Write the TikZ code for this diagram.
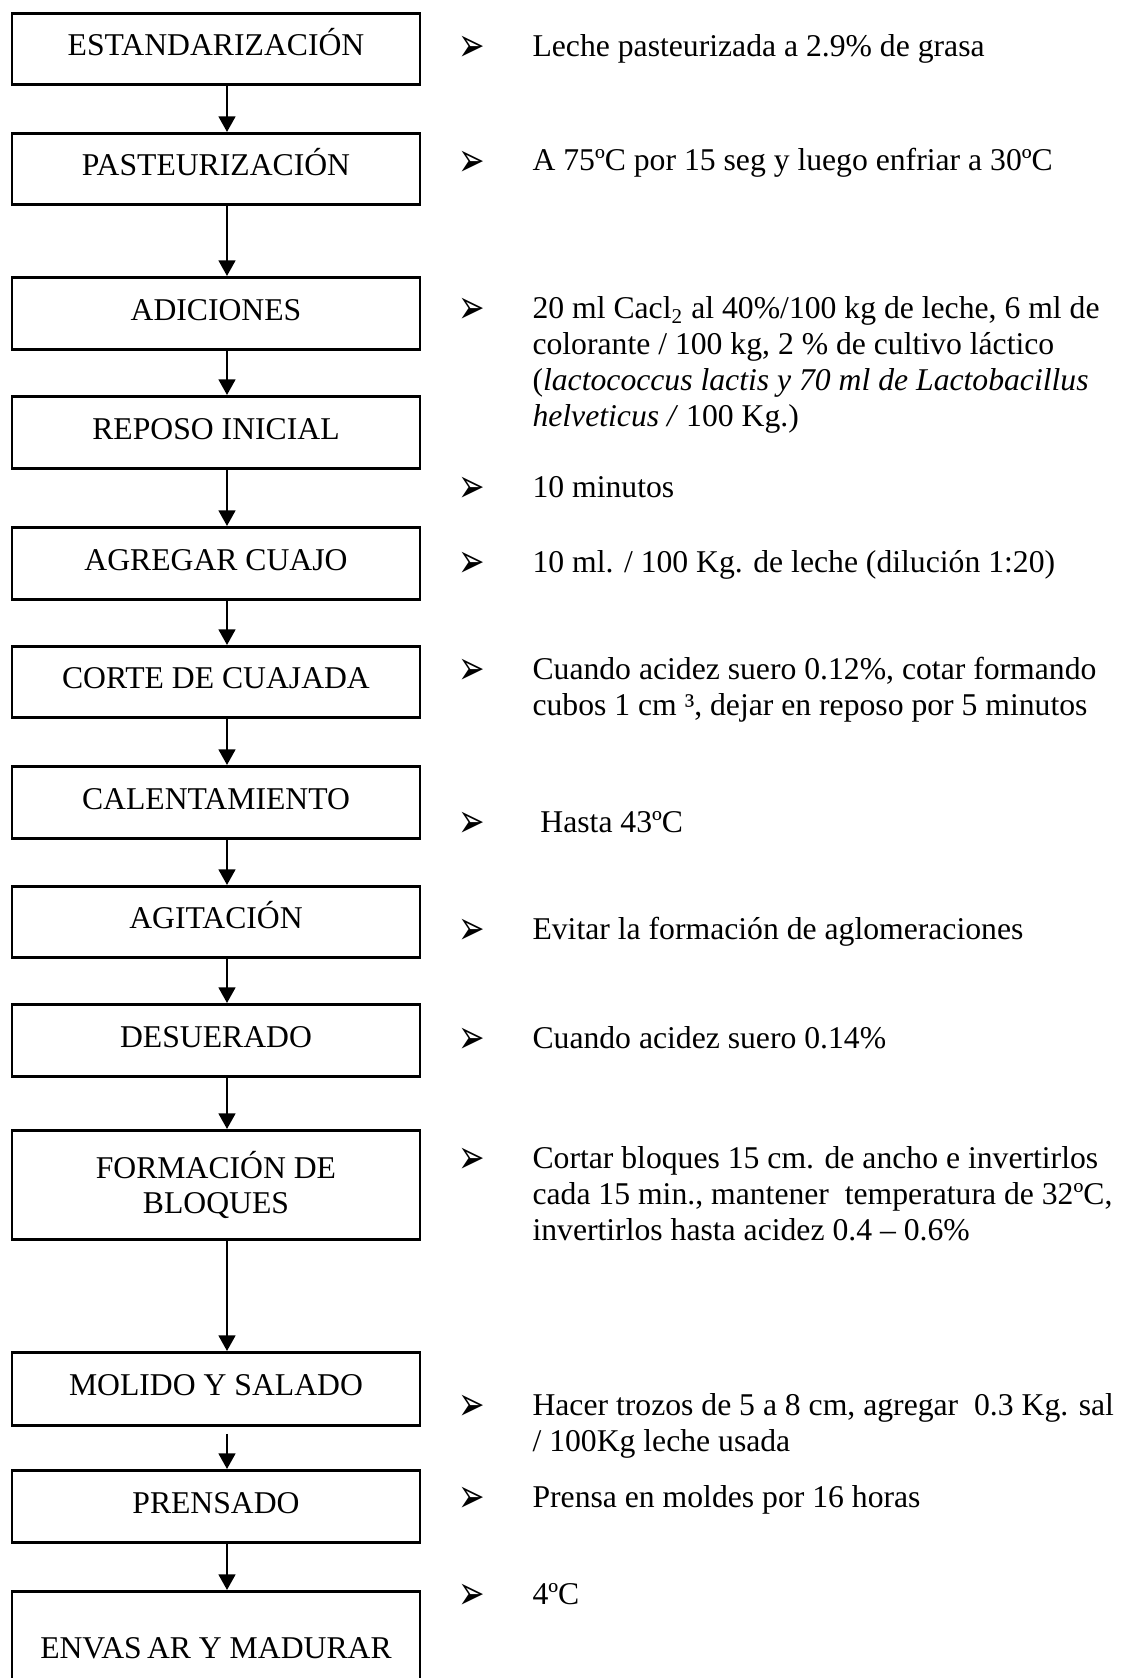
\documentclass[tikz,border=0pt]{standalone}
\usepackage{fontspec}
\setmainfont{Liberation Serif}
\newfontfamily\flechitas{DejaVu Sans}
\usetikzlibrary{arrows.meta}
\newcommand{\unidad}{0.3788pt}

\begin{document}
\begin{tikzpicture}[x=\unidad, y=-\unidad,
    caja/.style={draw, line width=1.1pt, minimum width=408*\unidad, inner sep=0pt,
      anchor=north, font=\fontsize{12}{13.6}\selectfont},
    paso/.style={caja, text height=0.7em, text depth=0.2em},
    flecha/.style={line width=0.95pt, -{Triangle[width=6.3pt,length=5.9pt]}},
    vineta/.style={anchor=base, inner sep=0pt, yshift=-2.6pt, font=\flechitas\fontsize{12}{13}\selectfont},
    nota/.style={anchor=north west, align=left, inner sep=0pt, font=\fontsize{12}{13.6}\selectfont}]
  \useasboundingbox (0,0) rectangle (1124,1678);
  \coordinate (eje) at (227,0);

  \node[paso, minimum height=71*\unidad] (p1) at (216,12) {ESTANDARIZACIÓN};
  \node[paso, minimum height=71*\unidad] (p2) at (216,132) {PASTEURIZACIÓN};
  \node[paso, minimum height=72*\unidad] (p3) at (216,276) {ADICIONES};
  \node[paso, minimum height=72*\unidad] (p4) at (216,395) {REPOSO INICIAL};
  \node[paso, minimum height=72*\unidad] (p5) at (216,526) {AGREGAR CUAJO};
  \node[paso, minimum height=71*\unidad] (p6) at (216,645) {CORTE DE CUAJADA};
  \node[paso, minimum height=72*\unidad] (p7) at (216,765) {CALENTAMIENTO};
  \node[paso, minimum height=71*\unidad] (p8) at (216,885) {AGITACIÓN};
  \node[paso, minimum height=72*\unidad] (p9) at (216,1003) {DESUERADO};
  \node[caja, minimum height=109*\unidad, align=center] (p10) at (216,1129) {FORMACIÓN DE\\BLOQUES};
  \node[paso, minimum height=73*\unidad] (p11) at (216,1351) {MOLIDO Y SALADO};
  \node[paso, minimum height=72*\unidad] (p12) at (216,1469) {PRENSADO};
  \node[paso, minimum height=120*\unidad] (p13) at (216,1590) {ENVAS\,AR Y MADURAR};

  \draw[flecha] (p1.south -| eje) -- (p2.north -| eje);
  \draw[flecha] (p2.south -| eje) -- (p3.north -| eje);
  \draw[flecha] (p3.south -| eje) -- (p4.north -| eje);
  \draw[flecha] (p4.south -| eje) -- (p5.north -| eje);
  \draw[flecha] (p5.south -| eje) -- (p6.north -| eje);
  \draw[flecha] (p6.south -| eje) -- (p7.north -| eje);
  \draw[flecha] (p7.south -| eje) -- (p8.north -| eje);
  \draw[flecha] (p8.south -| eje) -- (p9.north -| eje);
  \draw[flecha] (p9.south -| eje) -- (p10.north -| eje);
  \draw[flecha] (p10.south -| eje) -- (p11.north -| eje);
  \draw[flecha, shorten <=7*\unidad] (p11.south -| eje) -- (p12.north -| eje);
  \draw[flecha] (p12.south -| eje) -- (p13.north -| eje);

  \node[vineta] (v1) at (472,55) {\scalebox{1}[1.5]{➢}};
  \node[nota] (n1) at (532,31) {\strut Leche pasteurizada a 2.9\% de grasa};
  \node[vineta] (v2) at (472,170) {\scalebox{1}[1.5]{➢}};
  \node[nota] (n2) at (532,145) {\strut A 75ºC por 15 seg y luego enfriar a 30ºC};
  \node[vineta] (v3) at (472,317) {\scalebox{1}[1.5]{➢}};
  \node[nota] (n3) at (532,293) {\strut 20 ml Cacl\textsubscript{2} al 40\%/100 kg de leche, 6 ml de\\
    colorante / 100 kg, 2 \% de cultivo láctico\\
    (\textit{lactococcus lactis y 70 ml de Lactobacillus}\\
    \textit{helveticus /} 100 Kg.)};
  \node[vineta] (v4) at (472,496) {\scalebox{1}[1.5]{➢}};
  \node[nota] (n4) at (532,472) {\strut 10 minutos};
  \node[vineta] (v5) at (472,571) {\scalebox{1}[1.5]{➢}};
  \node[nota] (n5) at (532,547) {\strut 10 ml. / 100 Kg. de leche (dilución 1:20)};
  \node[vineta] (v6) at (472,678) {\scalebox{1}[1.5]{➢}};
  \node[nota] (n6) at (532,654) {\strut Cuando acidez suero 0.12\%, cotar formando\\
    cubos 1 cm ³, dejar en reposo por 5 minutos};
  \node[vineta] (v7) at (472,831) {\scalebox{1}[1.5]{➢}};
  \node[nota] (n7) at (532,807) {\strut\hspace{0.25em}Hasta 43ºC};
  \node[vineta] (v8) at (472,938) {\scalebox{1}[1.5]{➢}};
  \node[nota] (n8) at (532,914) {\strut Evitar la formación de aglomeraciones};
  \node[vineta] (v9) at (472,1047) {\scalebox{1}[1.5]{➢}};
  \node[nota] (n9) at (532,1023) {\strut Cuando acidez suero 0.14\%};
  \node[vineta] (v10) at (472,1167) {\scalebox{1}[1.5]{➢}};
  \node[nota] (n10) at (532,1143) {\strut Cortar bloques 15 cm. de ancho e invertirlos\\
    cada 15 min., mantener\ \ temperatura de 32ºC,\\
    invertirlos hasta acidez 0.4 -- 0.6\%};
  \node[vineta] (v11) at (472,1414) {\scalebox{1}[1.5]{➢}};
  \node[nota] (n11) at (532,1390) {\strut Hacer trozos de 5 a 8 cm, agregar\ \ 0.3 Kg. sal\\
    / 100Kg leche usada};
  \node[vineta] (v12) at (472,1506) {\scalebox{1}[1.5]{➢}};
  \node[nota] (n12) at (532,1482) {\strut Prensa en moldes por 16 horas};
  \node[vineta] (v13) at (472,1603) {\scalebox{1}[1.5]{➢}};
  \node[nota] (n13) at (532,1579) {\strut 4ºC};
\end{tikzpicture}
\end{document}
